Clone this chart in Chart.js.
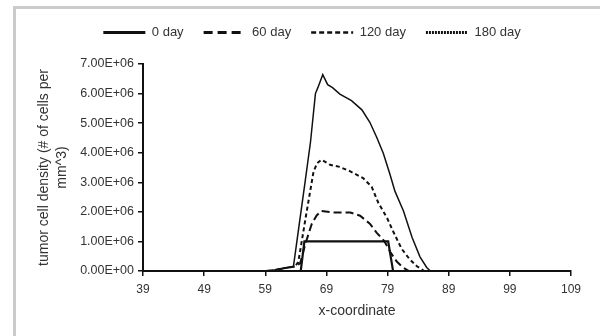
<!DOCTYPE html>
<html>
<head>
<meta charset="utf-8">
<script src="https://cdn.jsdelivr.net/npm/chart.js@4.4.0/dist/chart.umd.min.js"></script>
<style>
  html, body { margin: 0; padding: 0; background: #fff; overflow: hidden; }
  #wrap { position: relative; width: 600px; height: 336px; }
  #frame { position: absolute; left: 13px; top: 6px; width: 640px; height: 400px; border: 3px solid #cbcbcb; box-sizing: border-box; }
  canvas { position: absolute; left: 0; top: 0; }
</style>
</head>
<body>
<div id="wrap">
  <div id="frame"></div>
  <canvas id="canvas" width="600" height="336"></canvas>
</div>
<script>
// series labels
var seriesNames = ['0 day', '60 day', '120 day', '180 day'];

// x positions and densities (cells per mm^3)
var day0X = [39, 64.8, 65.4, 79.1, 79.9, 109];
var day0Y = [0, 0, 1.0e6, 1.0e6, 0, 0];

var day60X = [39, 59, 60, 61, 62, 63, 63.8, 64.7, 65.6, 66.6, 67.4, 68.2, 70.1, 72.9, 74.5, 76.1, 77.2, 78.5, 79.5, 80.5, 81.5, 82.5, 109];
var day60Y = [0, 0, 0.02e6, 0.05e6, 0.09e6, 0.13e6, 0.15e6, 0.26e6, 0.95e6, 1.59e6, 1.88e6, 2.03e6, 1.98e6, 1.98e6, 1.87e6, 1.6e6, 1.3e6, 1.0e6, 0.62e6, 0.32e6, 0.12e6, 0, 0];

var day120X = [39, 59, 60, 61, 62, 63, 63.8, 64.4, 65.6, 66.9, 67.5, 68.2, 69.6, 71.0, 72.9, 75.0, 76.4, 77.5, 78.9, 80.0, 81.3, 82.6, 83.8, 85.0, 109];
var day120Y = [0, 0, 0.02e6, 0.05e6, 0.09e6, 0.13e6, 0.15e6, 0.3e6, 1.8e6, 3.37e6, 3.65e6, 3.76e6, 3.59e6, 3.53e6, 3.37e6, 3.14e6, 2.85e6, 2.3e6, 1.8e6, 1.3e6, 0.75e6, 0.4e6, 0.16e6, 0, 0];

var day180X = [39, 59, 60, 61, 62, 63, 63.6, 64.5, 65.5, 66.4, 67.2, 67.6, 68.4, 69.2, 70.0, 71.2, 73.1, 74.8, 76.1, 77.2, 78.3, 79.4, 80.2, 81.6, 83.0, 84.3, 85.4, 86.0, 109];
var day180Y = [0, 0, 0.02e6, 0.05e6, 0.09e6, 0.13e6, 0.15e6, 1.5e6, 3.0e6, 4.37e6, 6.0e6, 6.2e6, 6.64e6, 6.3e6, 6.2e6, 5.98e6, 5.76e6, 5.45e6, 5.03e6, 4.53e6, 3.98e6, 3.26e6, 2.7e6, 2.03e6, 1.14e6, 0.48e6, 0.12e6, 0, 0];

// tick labels
var xTicks = [39, 49, 59, 69, 79, 89, 99, 109];
var yTicks = [0, 1e6, 2e6, 3e6, 4e6, 5e6, 6e6, 7e6];

function toPoints(xs, ys) {
    return xs.map(function(x, i) { return {x: x, y: ys[i]}; });
}

function sci(v) {
    if (v === 0) return '0.00E+00';
    var e = Math.floor(Math.log10(v));
    var m = v / Math.pow(10, e);
    return m.toFixed(2) + 'E+' + String(e).padStart(2, '0');
}

// legend line looks
var legendDash = [[], [9, 5], [5, 3], [2, 1]];
var legendWidth = [3, 3, 2.5, 3];

Chart.defaults.font.family = '"Liberation Sans", Arial, sans-serif';
Chart.defaults.color = '#333';

var ink = '#111';

// push the plot down a bit below the legend
var legendGap = {
    id: 'legendGap',
    beforeInit: function(chart) {
        var fit = chart.legend.fit;
        chart.legend.fit = function() {
            fit.call(this);
            this.height += 15;
        };
    }
};

var ctx = document.getElementById('canvas').getContext('2d');

var lineChartData = {
    datasets: [{
        label: seriesNames[0],
        data: toPoints(day0X, day0Y),
        borderColor: ink,
        borderWidth: 2.2,
        borderDash: []
    }, {
        label: seriesNames[1],
        data: toPoints(day60X, day60Y),
        borderColor: ink,
        borderWidth: 2,
        borderDash: [8, 4]
    }, {
        label: seriesNames[2],
        data: toPoints(day120X, day120Y),
        borderColor: ink,
        borderWidth: 2,
        borderDash: [4, 3]
    }, {
        label: seriesNames[3],
        data: toPoints(day180X, day180Y),
        borderColor: ink,
        borderWidth: 1.5,
        borderDash: []
    }]
};

var myChart = new Chart(ctx, {
    type: 'line',
    data: lineChartData,
    plugins: [legendGap],
    options: {
        responsive: false,
        animation: false,
        events: [],
        layout: { padding: { left: 53, right: 29, top: 6, bottom: 0 } },
        elements: {
            point: { radius: 0 },
            line: { tension: 0, fill: false, backgroundColor: ink }
        },
        plugins: {
            tooltip: { enabled: false },
            legend: {
                position: 'top',
                labels: {
                    font: { size: 13 },
                    color: '#333',
                    padding: 20,
                    usePointStyle: true,
                    pointStyle: 'line',
                    pointStyleWidth: 42,
                    generateLabels: function(chart) {
                        var items = Chart.defaults.plugins.legend.labels.generateLabels(chart);
                        items.forEach(function(it, i) {
                            it.lineDash = legendDash[i];
                            it.lineWidth = legendWidth[i];
                            it.strokeStyle = ink;
                            it.pointStyle = 'line';
                        });
                        return items;
                    }
                }
            }
        },
        scales: {
            x: {
                type: 'linear',
                min: 39,
                max: 109,
                afterBuildTicks: function(scale) {
                    scale.ticks = xTicks.map(function(v) { return {value: v}; });
                },
                afterFit: function(scale) { scale.height = 65; },
                grid: { drawOnChartArea: false, color: ink, lineWidth: 1.5, tickLength: 5 },
                border: { display: true, color: ink, width: 2 },
                ticks: { font: { size: 12 }, color: '#333', padding: 6, maxRotation: 0 },
                title: {
                    display: true,
                    text: 'x-coordinate',
                    font: { size: 14 },
                    color: '#333',
                    padding: { top: 0, bottom: 16 }
                }
            },
            y: {
                min: 0,
                max: 7e6,
                afterBuildTicks: function(scale) {
                    scale.ticks = yTicks.map(function(v) { return {value: v}; });
                },
                afterFit: function(scale) { scale.width = 90; },
                grid: { drawOnChartArea: false, color: ink, lineWidth: 1.5, tickLength: 5 },
                border: { display: true, color: ink, width: 2 },
                ticks: {
                    font: { size: 12.5 },
                    color: '#333',
                    padding: 4,
                    callback: function(v) { return sci(v); }
                },
                title: {
                    display: true,
                    text: ['tumor cell density (# of cells per', 'mm^3)'],
                    font: { size: 14, lineHeight: 1.3 },
                    color: '#333',
                    padding: { top: -18, bottom: 0 }
                }
            }
        }
    }
});
</script>
</body>
</html>
